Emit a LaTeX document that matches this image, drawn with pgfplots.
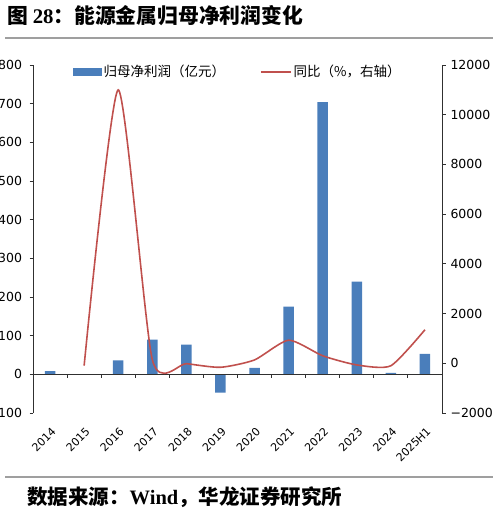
\documentclass[border=0pt]{standalone}
\usepackage{pgfplots}
\pgfplotsset{compat=1.18}
\usepackage{fontspec}
\setmainfont{Liberation Sans}
\newfontfamily\cjk{Noto Sans CJK SC}
\newfontfamily\serifb{Liberation Serif}
\newfontfamily\dv{DejaVu Sans}
\definecolor{barblue}{HTML}{4A7EBB}
\definecolor{linered}{HTML}{C0504D}
\definecolor{axisgray}{HTML}{303030}
\begin{document}
\begin{tikzpicture}[x=1pt,y=1pt]
\useasboundingbox (0,0) rectangle (499,-517);
\node[anchor=west, inner sep=0] at (7,-16) {\fontsize{20.8}{20.8}\selectfont\bfseries\cjk 图 {\serifb 28}：能源金属归母净利润变化};
\draw[gray!75, line width=1.5pt] (5,-38) -- (493,-38);
\draw[gray!75, line width=1.2pt] (5,-477) -- (493,-477);
\node[anchor=west, inner sep=0] at (27,-497) {\fontsize{20.5}{20.5}\selectfont\bfseries\cjk 数据来源：{\serifb Wind}，华龙证券研究所};

\begin{axis}[
  at={(33pt,-413pt)}, anchor=south west,
  width=409pt, height=348pt, scale only axis,
  xmin=-0.5, xmax=11.5, ymin=-100, ymax=800,
  axis y line*=left, axis x line*=bottom,
  x axis line style={draw=none},
  y axis line style={draw=axisgray, line width=0.9pt},
  xtick={0,...,11},
  xticklabels={2014,2015,2016,2017,2018,2019,2020,2021,2022,2023,2024,2025H1},
  major x tick style={draw=none},
  xticklabel style={rotate=45, anchor=north east, font=\fontsize{11}{11}\selectfont\dv, yshift=-4pt, xshift=-3pt},
  ytick={-100,0,100,200,300,400,500,600,700,800},
  yticklabel style={font=\fontsize{12.5}{12.5}\selectfont\dv, xshift=-4pt},
  major y tick style={draw=axisgray, line width=0.9pt},
  tick align=outside, major tick length=3.5pt,
  /pgf/number format/assume math mode=true,
  ybar, bar width=10.5pt, bar shift=0pt,
  clip=false,
]
\addplot[fill=barblue, draw=none] coordinates {
  (0,8) (1,0.3) (2,36) (3,90) (4,77) (5,-47) (6,17) (7,175) (8,704) (9,240) (10,4) (11,53)
};
\draw[axisgray, line width=0.9pt] (axis cs:-0.5,0) -- (axis cs:11.5,0);
\pgfplotsinvokeforeach{0.5,1.5,...,10.5}{\draw[axisgray, line width=0.9pt] (axis cs:#1,0) -- ++(0pt,-3.5pt);}
\end{axis}

\begin{axis}[
  at={(33pt,-413pt)}, anchor=south west,
  width=409pt, height=348pt, scale only axis,
  xmin=-0.5, xmax=11.5, ymin=-2000, ymax=12000,
  axis y line*=right, axis x line=none,
  y axis line style={draw=axisgray, line width=0.9pt},
  scaled y ticks=false,
  ytick={-2000,0,2000,4000,6000,8000,10000,12000},
  yticklabels={−2000,0,2000,4000,6000,8000,10000,12000},
  yticklabel style={font=\fontsize{12.5}{12.5}\selectfont\dv, xshift=1.5pt},
  major y tick style={draw=axisgray, line width=0.9pt},
  tick align=outside, major tick length=3.5pt,
  legend columns=2,
  legend style={at={(0.0978,0.98)}, anchor=west, draw=none, fill=none, inner sep=0pt,
    font=\fontsize{13.5}{13.5}\selectfont\cjk, /tikz/every even column/.append style={column sep=33pt}},
  legend cell align=left,
]
\addlegendimage{legend image code/.code={\fill[barblue] (0pt,-3.5pt) rectangle (28pt,3.5pt);}}
\addlegendentry{归母净利润（亿元）}
\addplot[linered, line width=1.6pt, smooth, tension=0.38,
  legend image code/.code={\draw[linered, line width=1.6pt] (0pt,0pt) -- (30pt,0pt);}]
  coordinates {
  (1,-96) (2,11000) (3,150) (4,-14) (5,-161) (6,136) (7,930) (8,302) (9,-66) (10,-98) (11,1350)
};
\addlegendentry{同比（\%，右轴）}
\end{axis}
\end{tikzpicture}
\end{document}
